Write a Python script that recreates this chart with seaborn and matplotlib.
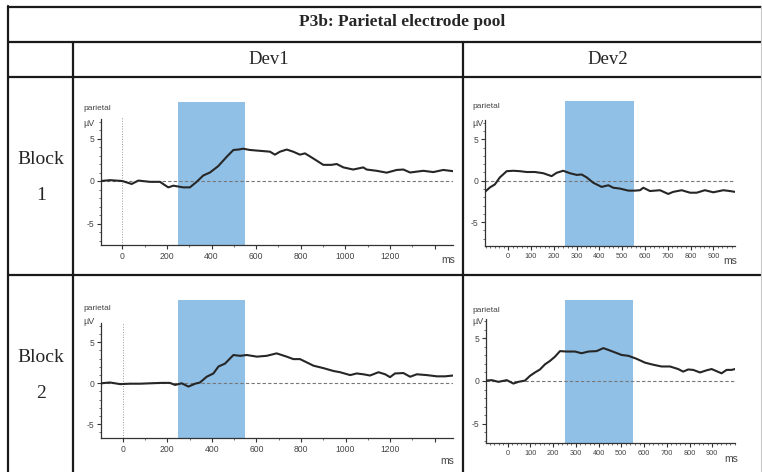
import matplotlib
matplotlib.use("Agg")
import matplotlib.pyplot as plt
from matplotlib.lines import Line2D
from matplotlib.ticker import MultipleLocator, FixedLocator
import seaborn as sns
import numpy as np

sns.set_style("white")
plt.rcParams['font.family'] = ['DejaVu Sans']

# ---------------- data ----------------
title_text = "P3b: Parietal electrode pool"
col_labels = ["Dev1", "Dev2"]
row_labels = [("Block", "1"), ("Block", "2")]
window_ms = [250, 550]

dev1_b1_t = [-96, -55, 0, 42, 72, 124, 169, 206, 229, 273, 303, 333, 363, 393, 430, 468, 498, 520,
             542, 572, 617, 662, 684, 707, 737, 766, 796, 819, 856, 901, 938, 961, 991, 1035, 1080,
             1095, 1140, 1185, 1230, 1260, 1290, 1349, 1394, 1439, 1484]
dev1_b1_v = [0.0, 0.1, 0.0, -0.35, 0.05, -0.1, -0.1, -0.75, -0.55, -0.75, -0.75, -0.1, 0.65, 1.0,
             1.75, 2.85, 3.65, 3.7, 3.8, 3.65, 3.55, 3.45, 3.1, 3.45, 3.7, 3.45, 3.1, 3.25, 2.65,
             1.9, 1.9, 2.0, 1.6, 1.35, 1.6, 1.35, 1.2, 0.98, 1.3, 1.35, 1.0, 1.2, 1.05, 1.3, 1.15]

dev2_b1_t = [-102, -80, -59, -37, -7, 22, 51, 80, 117, 154, 190, 212, 241, 271, 300, 322, 344, 373,
             410, 439, 461, 490, 527, 556, 578, 593, 622, 666, 702, 724, 761, 798, 827, 863, 900,
             944, 973, 995]
dev2_b1_v = [-1.33, -0.8, -0.45, 0.4, 1.15, 1.2, 1.15, 1.05, 1.05, 0.9, 0.55, 0.95, 1.2, 0.9, 0.7,
             0.75, 0.4, -0.25, -0.75, -0.55, -0.85, -0.95, -1.2, -1.2, -1.15, -0.85, -1.25, -1.15,
             -1.6, -1.35, -1.15, -1.45, -1.45, -1.15, -1.4, -1.15, -1.25, -1.35]

dev1_b2_t = [-97, -57, -12, 33, 78, 123, 175, 212, 235, 265, 295, 325, 347, 377, 407, 430, 459, 497,
             527, 557, 602, 646, 691, 736, 766, 796, 856, 901, 946, 976, 1021, 1050, 1080, 1110,
             1148, 1178, 1200, 1222, 1260, 1290, 1320, 1365, 1410, 1447, 1484]
dev1_b2_v = [0.0, 0.1, -0.1, -0.05, -0.05, 0.0, 0.05, 0.05, -0.2, 0.0, -0.4, -0.05, 0.1, 0.8, 1.2,
             2.05, 2.4, 3.45, 3.35, 3.45, 3.25, 3.35, 3.65, 3.25, 2.95, 2.95, 2.15, 1.85, 1.5, 1.35,
             1.0, 1.2, 1.1, 0.95, 1.35, 1.1, 0.75, 1.2, 1.25, 0.8, 1.1, 1.0, 0.85, 0.85, 0.95]

dev2_b2_t = [-95, -70, -41, -4, 25, 47, 76, 98, 120, 142, 164, 186, 208, 230, 259, 296, 325, 355,
             391, 421, 457, 501, 531, 567, 604, 641, 677, 714, 750, 772, 794, 816, 846, 875, 897,
             919, 941, 963, 985, 1000]
dev2_b2_v = [0.05, 0.1, -0.1, 0.1, -0.3, -0.1, 0.05, 0.6, 1.0, 1.35, 1.95, 2.35, 2.85, 3.5, 3.45,
             3.45, 3.25, 3.45, 3.5, 3.85, 3.5, 3.05, 2.95, 2.6, 2.15, 1.9, 1.7, 1.7, 1.4, 1.1, 1.35,
             1.3, 1.0, 1.25, 1.4, 1.15, 0.9, 1.3, 1.3, 1.4]

# ---------------- figure ----------------
W, H = 762, 472
fig = plt.figure(figsize=(W / 100, H / 100), dpi=100)
fig.patch.set_facecolor("white")


def fx(x):
    return x / W


def fy(y):
    return 1 - y / H


def hline(y, x0, x1, lw=1.6, color="#1a1a1a"):
    fig.add_artist(Line2D([fx(x0), fx(x1)], [fy(y), fy(y)], lw=lw, color=color,
                          transform=fig.transFigure))


def vline(x, y0, y1, lw=1.6, color="#1a1a1a"):
    fig.add_artist(Line2D([fx(x), fx(x)], [fy(y0), fy(y1)], lw=lw, color=color,
                          transform=fig.transFigure))


# table grid
hline(6.5, 8, 762)
hline(42, 8, 762)
hline(77, 8, 762)
hline(275, 8, 762)
vline(8, 6, 472)
vline(73, 42, 472)
vline(463, 42, 472)
vline(761, 6, 472, lw=0.8, color="#c8c8c8")

serif = ["Liberation Serif", "DejaVu Serif"]
fig.text(fx(402), fy(22), title_text, ha="center", va="center", fontsize=12.5,
         fontweight="bold", family=serif)
fig.text(fx(269), fy(60), col_labels[0], ha="center", va="center", fontsize=13.5, family=serif)
fig.text(fx(608), fy(60), col_labels[1], ha="center", va="center", fontsize=13.5, family=serif)
for (a, b), yc in zip(row_labels, [160, 358]):
    fig.text(fx(41), fy(yc), a, ha="center", va="center", fontsize=14, family=serif)
    fig.text(fx(41), fy(yc + 35), b, ha="center", va="center", fontsize=14, family=serif)

tickfont = ["Liberation Sans Narrow", "Liberation Sans", "DejaVu Sans"]
blue = "#90c0e6"

panels = [
    dict(t=dev1_b1_t, v=dev1_b1_v, x0=122.3, ppm=0.2231, left=101, right=453,
         y0=181, ppu=8.5, bottom=245, top=101.7, wide=True,
         lab=(83, 108, 123), ms=(448, 260)),
    dict(t=dev2_b1_t, v=dev2_b1_v, x0=508.3, ppm=0.2278, left=485, right=735,
         y0=180.7, ppu=8.28, bottom=246, top=101, wide=False,
         lab=(472.5, 107, 123), ms=(730, 261)),
    dict(t=dev1_b2_t, v=dev1_b2_v, x0=122.7, ppm=0.2228, left=101, right=453,
         y0=383.3, ppu=8.2, bottom=438.3, top=300, wide=True,
         lab=(83, 308, 321), ms=(447, 461)),
    dict(t=dev2_b2_t, v=dev2_b2_v, x0=507.7, ppm=0.2273, left=486, right=735,
         y0=381, ppu=8.54, bottom=443.3, top=300, wide=False,
         lab=(472.5, 310, 322), ms=(731, 459)),
]

for p in panels:
    ax = fig.add_axes([fx(p["left"]), fy(p["bottom"]),
                       (p["right"] - p["left"]) / W, (p["bottom"] - p["top"]) / H])
    ax.set_facecolor("none")
    xlim = ((p["left"] - p["x0"]) / p["ppm"], (p["right"] - p["x0"]) / p["ppm"])
    ylim = ((p["y0"] - p["bottom"]) / p["ppu"], (p["y0"] - p["top"]) / p["ppu"])
    ax.set_xlim(*xlim)
    ax.set_ylim(*ylim)

    ax.axvspan(window_ms[0], window_ms[1], color=blue, lw=0, zorder=0)
    ax.axhline(0, color="#777777", lw=0.8, ls=(0, (3, 2)), zorder=1)
    if p["wide"]:
        ax.vlines(0, ylim[0], 7.5, colors="#999999", lw=0.7, linestyles=":", zorder=1)

    sns.lineplot(x=p["t"], y=p["v"], ax=ax, color="#262626", lw=1.5, sort=False,
                 estimator=None, zorder=3)

    for s in ["top", "right"]:
        ax.spines[s].set_visible(False)
    ax.spines["left"].set_bounds(ylim[0], 7.3)
    ax.spines["left"].set_color("#333333")
    ax.spines["bottom"].set_color("#333333")
    ax.spines["left"].set_linewidth(0.9)
    ax.spines["bottom"].set_linewidth(0.9)

    ax.yaxis.set_major_locator(FixedLocator([-5, 0, 5]))
    ax.yaxis.set_minor_locator(FixedLocator([v for v in range(-7, 8) if v % 5 != 0]))
    ax.set_yticklabels(["-5", "0", "5"])
    if p["wide"]:
        ax.xaxis.set_major_locator(FixedLocator([0, 200, 400, 600, 800, 1000, 1200, 1400]))
        ax.set_xticklabels(["0", "200", "400", "600", "800", "1000", "1200", ""])
        ax.xaxis.set_minor_locator(MultipleLocator(100))
        xfs = 6.2
    else:
        ax.xaxis.set_major_locator(FixedLocator(list(range(0, 1000, 100))))
        ax.set_xticklabels([str(v) for v in range(0, 1000, 100)])
        ax.xaxis.set_minor_locator(MultipleLocator(20))
        xfs = 5.3
    ax.tick_params(axis="both", which="major", direction="out", length=3, width=0.8,
                   colors="#333333", labelcolor="#444444", pad=2)
    ax.tick_params(axis="both", which="minor", direction="out", length=1.6, width=0.6,
                   colors="#555555")
    ax.tick_params(axis="x", which="both", bottom=True)
    ax.tick_params(axis="y", which="both", left=True)
    for lab in ax.get_xticklabels():
        lab.set_fontsize(xfs)
        lab.set_family(tickfont)
    for lab in ax.get_yticklabels():
        lab.set_fontsize(6.2)
        lab.set_family(tickfont)
    ax.set_xlabel("")
    ax.set_ylabel("")
    ax.grid(False)

    lx, ly1, ly2 = p["lab"]
    fig.text(fx(lx), fy(ly1), "parietal", ha="left", va="center", fontsize=6,
             color="#444444", family=tickfont)
    fig.text(fx(lx), fy(ly2), "µV", ha="left", va="center", fontsize=6.5,
             color="#444444", family=tickfont)
    mx, my = p["ms"]
    fig.text(fx(mx), fy(my), "ms", ha="center", va="center", fontsize=7.5,
             color="#444444", family=tickfont)

fig.savefig("out.png", dpi=100)
